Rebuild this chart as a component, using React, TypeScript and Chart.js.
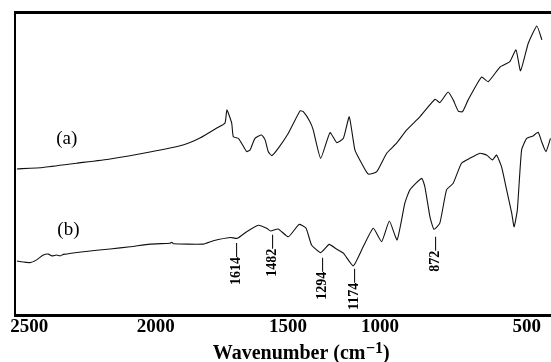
import { useEffect, useRef } from 'react';
import { Chart, registerables } from 'chart.js';

Chart.register(...registerables);

// Spectrum (a)
const waveA = [2433, 2335, 2209, 2084, 1935, 1811, 1748, 1685, 1654, 1647, 1629, 1623, 1604, 1592, 1573, 1560, 1542, 1517, 1504, 1492, 1479, 1455, 1417, 1373, 1361, 1336, 1324, 1296, 1261, 1236, 1211, 1189, 1168, 1143, 1118, 1086, 1049, 1012, 974, 925, 868, 850, 819, 800, 781, 765, 744, 694, 669, 625, 588, 565, 548, 519, 487, 468];
const transA = [48.2, 48.7, 50.1, 51.5, 53.8, 56.1, 58.4, 61.7, 63.4, 67.7, 63.3, 58.8, 58.3, 56.7, 53.9, 54.5, 58.3, 59.4, 57.8, 53.9, 52.6, 55.0, 60.0, 67.4, 67.1, 63.8, 61.1, 51.7, 60.2, 56.9, 58.3, 65.4, 54.5, 50.1, 46.5, 47.3, 53.4, 56.7, 61.1, 65.4, 71.2, 70.1, 73.6, 71.0, 67.3, 67.1, 71.0, 78.5, 77.0, 81.8, 83.6, 87.5, 80.6, 89.7, 95.4, 90.8];

// Spectrum (b)
const waveB = [2433, 2384, 2359, 2334, 2315, 2302, 2284, 2271, 2259, 2184, 2084, 2009, 1935, 1860, 1853, 1847, 1735, 1698, 1635, 1608, 1573, 1529, 1498, 1483, 1455, 1417, 1377, 1351, 1330, 1296, 1264, 1236, 1211, 1174, 1137, 1099, 1068, 1039, 1010, 981, 962, 918, 906, 887, 872, 850, 825, 800, 769, 738, 700, 675, 653, 638, 619, 600, 581, 572, 560, 544, 525, 501, 482, 469, 453, 436];
const transB = [17.8, 17.3, 18.2, 19.8, 20.1, 19.5, 19.8, 19.5, 20.0, 20.9, 21.8, 22.5, 23.4, 23.7, 24.0, 23.5, 23.4, 24.5, 25.6, 25.3, 27.5, 29.6, 28.6, 27.7, 28.4, 25.8, 29.9, 28.7, 23.1, 20.6, 23.3, 21.7, 20.4, 16.2, 22.5, 28.6, 24.2, 31.0, 24.8, 36.9, 41.3, 45.1, 42.3, 32.4, 28.3, 30.3, 41.3, 43.5, 50.1, 51.7, 53.4, 52.8, 51.2, 52.8, 48.9, 41.3, 33.6, 29.1, 34.7, 54.5, 58.3, 59.1, 60.3, 57.2, 53.9, 58.3];

// Axis tick labels, as printed, and where they sit on the wavenumber scale
const xTickLabels = ['2500', '2000', '1500', '1000', '500'];
const xTickAt = [2387, 1913, 1418, 1074, 525];

// Peak annotations of (b)
const peakLabels = ['1614', '1482', '1294', '1174', '872'];
const peakWave = [1614, 1482, 1294, 1174, 872];
const peakLabelBase = [9.9, 12.6, 5.0, 1.65, 14.3];

// Series labels
const seriesLabels = ['(a)', '(b)'];
const seriesLabelWave = [2246, 2240];
const seriesLabelT = [58.1, 28.2];

const SERIF = '"Liberation Serif", "Times New Roman", serif';

const overlayPlugin = {
  id: 'overlay',
  afterDraw(chart: any) {
    const { ctx, chartArea, scales } = chart;
    const xs = scales.x;
    const ys = scales.y;
    ctx.save();
    // top frame line
    ctx.strokeStyle = '#000';
    ctx.lineWidth = 3;
    ctx.beginPath();
    ctx.moveTo(chartArea.left - 1, chartArea.top + 0.5);
    ctx.lineTo(chartArea.right, chartArea.top + 0.5);
    ctx.stroke();

    // series labels
    ctx.fillStyle = '#000';
    ctx.font = `19px ${SERIF}`;
    ctx.textAlign = 'center';
    ctx.textBaseline = 'middle';
    seriesLabels.forEach((t, i) => {
      ctx.fillText(t, xs.getPixelForValue(seriesLabelWave[i]), ys.getPixelForValue(seriesLabelT[i]));
    });

    // peak labels (rotated)
    ctx.font = `bold 14px ${SERIF}`;
    ctx.textAlign = 'left';
    ctx.textBaseline = 'middle';
    peakLabels.forEach((t, i) => {
      const px = xs.getPixelForValue(peakWave[i]);
      const py = ys.getPixelForValue(peakLabelBase[i]);
      ctx.save();
      ctx.translate(px, py);
      ctx.rotate(-Math.PI / 2);
      ctx.fillText(t + '\u2014', 0, 1);
      ctx.restore();
    });

    // axis title with superscript
    const main1 = 'Wavenumber (cm';
    const sup = '\u22121';
    const main2 = ')';
    ctx.font = `bold 20px ${SERIF}`;
    const w1 = ctx.measureText(main1).width;
    const w3 = ctx.measureText(main2).width;
    ctx.font = `bold 16px ${SERIF}`;
    const w2 = ctx.measureText(sup).width;
    const total = w1 + w2 + w3;
    const cx = chartArea.left + 286;
    const base = 359;
    const x0 = cx - total / 2;
    ctx.textAlign = 'left';
    ctx.textBaseline = 'alphabetic';
    ctx.font = `bold 20px ${SERIF}`;
    ctx.fillText(main1, x0, base);
    ctx.font = `bold 16px ${SERIF}`;
    ctx.fillText(sup, x0 + w1 + 0.5, base - 6);
    ctx.font = `bold 20px ${SERIF}`;
    ctx.fillText(main2, x0 + w1 + w2 + 0.5, base);
    ctx.restore();
  },
};

export default function App() {
  const ref = useRef<HTMLCanvasElement | null>(null);
  useEffect(() => {
    if (!ref.current) return;
    const chart = new Chart(ref.current, {
      type: 'line',
      data: {
        datasets: [
          {
            label: '(a)',
            data: waveA.map((x, i) => ({ x, y: transA[i] })),
            borderColor: '#111',
            borderWidth: 1.1,
            pointRadius: 0,
            tension: 0.15,
          },
          {
            label: '(b)',
            data: waveB.map((x, i) => ({ x, y: transB[i] })),
            borderColor: '#111',
            borderWidth: 1.1,
            pointRadius: 0,
            tension: 0.15,
          },
        ],
      },
      options: {
        animation: false,
        responsive: false,
        events: [],
        layout: { padding: { left: 15, top: 12, right: 0, bottom: 0 } },
        plugins: { legend: { display: false }, tooltip: { enabled: false }, title: { display: false } },
        scales: {
          x: {
            type: 'linear',
            reverse: true,
            min: 434,
            max: 2440,
            afterBuildTicks: (s: any) => {
              s.ticks = xTickAt.map((v) => ({ value: v }));
            },
            afterFit: (s: any) => {
              s.height = 47;
            },
            ticks: {
              autoSkip: false,
              maxRotation: 0,
              padding: 1,
              color: '#000',
              font: { family: SERIF, size: 19, weight: 'bold' },
              callback: (_v: any, i: number) => xTickLabels[i],
            },
            grid: { display: false, drawTicks: false },
            border: { display: true, color: '#000', width: 3 },
          },
          y: {
            min: 0,
            max: 100,
            afterFit: (s: any) => {
              s.width = 0;
            },
            ticks: { display: false },
            grid: { display: false, drawTicks: false },
            border: { display: true, color: '#000', width: 2 },
          },
        },
      },
      plugins: [overlayPlugin],
    } as any);
    return () => chart.destroy();
  }, []);
  return (
    <div style={{ position: 'absolute', left: 0, top: 0, width: 551, height: 362, background: '#fff' }}>
      <canvas ref={ref} width={551} height={362} />
    </div>
  );
}
